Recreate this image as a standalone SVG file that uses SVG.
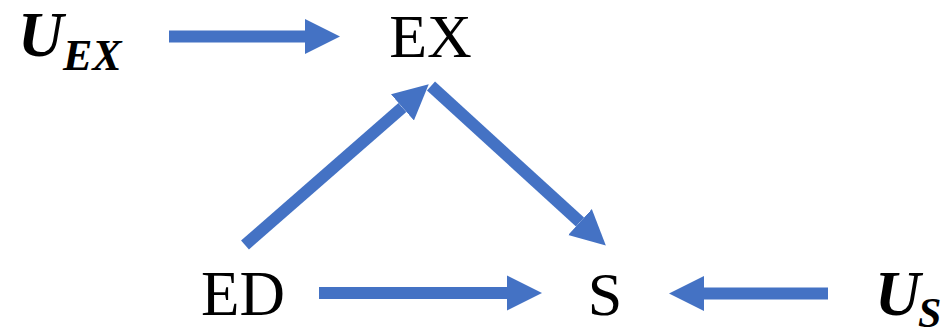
<svg xmlns="http://www.w3.org/2000/svg" width="948" height="328" viewBox="0 0 948 328">
<defs>
<marker id="head" markerUnits="userSpaceOnUse" markerWidth="36" markerHeight="36" viewBox="0 -18 36 36" refX="0" refY="0" orient="auto">
<path d="M0,-17.5 L35,0 L0,17.5 Z" fill="#4472C4"/>
</marker>
</defs>
<rect width="948" height="328" fill="#fff"/>
<g id="connectors" stroke="#4472C4" stroke-width="12" fill="none" marker-end="url(#head)">
<line x1="169" y1="36.5" x2="305" y2="36.5"/>
<line x1="245" y1="245" x2="402.4" y2="107.4"/>
<line x1="431" y1="86" x2="580" y2="222"/>
<line x1="319" y1="293" x2="507" y2="293"/>
<line x1="828" y1="293.5" x2="704" y2="293.5"/>
</g>
<g id="node-UEX">
<text x="18" y="56" font-size="63" font-family="Liberation Serif" font-weight="bold" font-style="italic" fill="#000">U</text>
<text x="63" y="70" font-size="44" font-family="Liberation Serif" font-weight="bold" font-style="italic" fill="#000">EX</text>
</g>
<g id="node-EX"><text transform="translate(430.5,57) scale(1.378)" x="0" y="0" font-size="45" font-family="Liberation Serif" text-anchor="middle" fill="#000">EX</text></g>
<g id="node-ED"><text transform="translate(243,315) scale(1.4)" x="0" y="0" font-size="45" font-family="Liberation Serif" text-anchor="middle" fill="#000">ED</text></g>
<g id="node-S"><text transform="translate(605,315) scale(1.378)" x="0" y="0" font-size="45" font-family="Liberation Serif" text-anchor="middle" fill="#000">S</text></g>
<g id="node-US">
<text x="875" y="315" font-size="63" font-family="Liberation Serif" font-weight="bold" font-style="italic" fill="#000">U</text>
<text x="918" y="327" font-size="42" font-family="Liberation Serif" font-weight="bold" font-style="italic" fill="#000">S</text>
</g>
</svg>
